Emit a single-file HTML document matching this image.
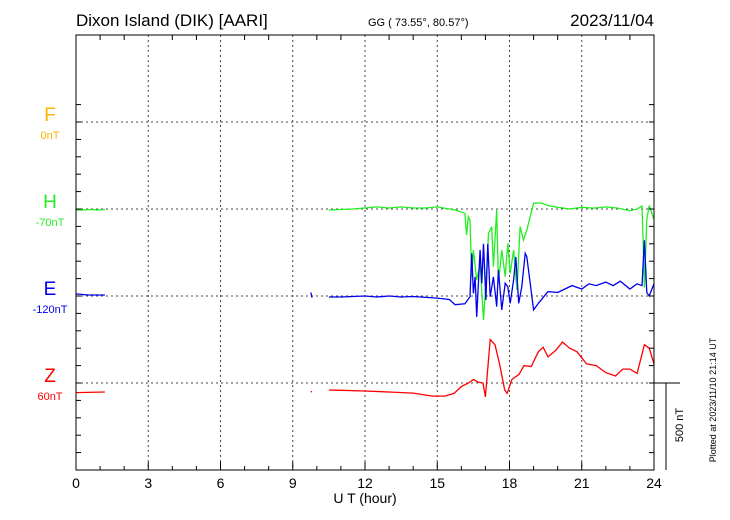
<!DOCTYPE html>
<html><head><meta charset="utf-8"><style>
body{margin:0;background:#fff;}
svg{display:block;font-family:"Liberation Sans",sans-serif;}
</style></head><body>
<svg id="chart" width="730" height="520">
<text x="76" y="26" font-size="17">Dixon Island (DIK)  [AARI]</text>
<text x="368" y="26" font-size="11">GG ( 73.55°,  80.57°)</text>
<text x="654" y="26" font-size="17" text-anchor="end">2023/11/04</text>
<g id="grid"></g><g id="series"></g><g id="axes"></g>
<text x="365" y="503" font-size="14" text-anchor="middle">U T (hour)</text>
<text transform="translate(683,425) rotate(-90)" font-size="11" text-anchor="middle">500 nT</text>
<text transform="translate(716,400) rotate(-90)" font-size="9" text-anchor="middle">Plotted at 2023/11/10 21:14 UT</text>
</svg>
<script>
const xTicks=[0,3,6,9,12,15,18,21,24];
const compNames=["F","H","E","Z"];
const compBase=["0nT","-70nT","-120nT","60nT"];
const compColors=["#ffb300","#22ee22","#0000ee","#ff0000"];
const hTimes=[0,0.3,0.6,0.9,1.2,null,10.5,11,11.5,12,12.5,13,13.5,14,14.5,15,15.5,15.74,16.15,16.22,16.29,16.36,16.43,16.5,16.64,16.78,16.92,17.06,17.13,17.26,17.33,17.47,17.54,17.68,17.82,17.93,18.03,18.17,18.31,18.44,18.58,18.72,18.86,19.0,19.3,19.6,20,20.5,21,21.5,22,22.5,23,23.3,23.5,23.55,23.6,23.7,23.8,24];
const hVals=[-6,-6,-3,-6,-3,null,-6,-3,0,6,12,6,12,6,6,12,0,-6,-25,-150,-44,-63,-389,-236,-408,-312,-638,-332,-140,-102,-332,-6,-427,-236,-389,-197,-370,-236,-466,-102,-178,-121,-44,33,35,20,10,0,10,5,12,5,-10,0,17,-200,-450,-60,20,-60];
const eTimes=[0,0.5,1.2,null,9.75,9.8,null,10.5,11,12,12.5,13,13.5,14,15,15.5,15.74,16.15,16.36,16.43,16.5,16.57,16.64,16.78,16.85,16.92,17.02,17.1,17.2,17.33,17.47,17.54,17.68,17.82,17.93,18.03,18.17,18.26,18.38,18.51,18.65,18.72,18.86,19.0,19.2,19.6,20,20.3,20.6,21,21.3,21.6,22,22.3,22.6,23,23.3,23.5,23.6,23.7,23.8,24];
const eVals=[12,6,6,null,20,-10,null,-6,-6,0,-6,0,-6,-3,-12,-20,-50,-45,-4,245,15,110,-120,265,73,300,-23,300,-4,110,-61,150,-80,73,54,-42,92,225,-42,54,245,226,73,-80,-42,25,20,40,60,40,70,60,80,60,85,40,70,60,320,20,0,70];
const zTimes=[0,1.2,null,9.75,9.8,null,10.5,11,12,13,14,14.8,15.3,15.7,16,16.3,16.5,16.7,16.9,17,17.2,17.4,17.6,17.8,17.9,18.1,18.4,18.6,18.9,19.2,19.4,19.6,19.9,20.2,20.5,20.8,21.2,21.6,22,22.4,22.7,23,23.3,23.6,23.8,24];
const zVals=[-55,-52,null,-50,-50,null,-40,-42,-46,-52,-58,-75,-75,-60,-20,0,20,5,0,-80,250,220,100,-40,-60,20,50,100,95,180,205,150,185,235,200,180,110,100,60,40,80,80,55,220,200,110];
const X0=76,X1=654,Y0=35,Y1=470;
const baseY=[122,209,296,383];
const pxPerNT=87/500;
const xs=h=>X0+h*(X1-X0)/24;
const ys=(i,v)=>baseY[i]-v*pxPerNT;
const NS="http://www.w3.org/2000/svg";
function mk(t,a,p){const e=document.createElementNS(NS,t);for(const k in a)e.setAttribute(k,a[k]);p.appendChild(e);return e;}
const grid=document.getElementById('grid'),axes=document.getElementById('axes'),ser=document.getElementById('series');
for(let i=1;i<8;i++){const l=mk('line',{x1:xs(i*3),x2:xs(i*3),y1:Y0,y2:Y1,stroke:'#444','stroke-dasharray':'2,3'},grid);

}
baseY.forEach((y,i)=>{const l=mk('line',{x1:X0,x2:X1,y1:y,y2:y,stroke:'#444','stroke-dasharray':'2,3'},grid);


const n=mk('text',{x:50,y:y-1,'font-size':19,fill:compColors[i],'text-anchor':'middle'},axes);n.textContent=compNames[i];


const b=mk('text',{x:50,y:y+17,'font-size':11,fill:compColors[i],'text-anchor':'middle'},axes);b.textContent=compBase[i];

});
const fr=mk('rect',{x:X0,y:Y0,width:X1-X0,height:Y1-Y0,fill:'none',stroke:'#000','stroke-width':1},axes);


for(let h=0;h<=24;h++){const big=h%3==0;mk('line',{x1:xs(h),x2:xs(h),y1:Y0,y2:Y0+(big?0:5),stroke:'#000'},axes);mk('line',{x1:xs(h),x2:xs(h),y1:Y1,y2:Y1-(big?8:4),stroke:'#000'},axes);}
for(let y=baseY[0]-17.4;y<Y1;y+=17.4){mk('line',{x1:X0,x2:X0+5,y1:y,y2:y,stroke:'#000'},axes);mk('line',{x1:X1,x2:X1-5,y1:y,y2:y,stroke:'#000'},axes);}
xTicks.forEach(t=>{const e=mk('text',{x:xs(t),y:488,'font-size':14,'text-anchor':'middle'},axes);e.textContent=t;

});
mk('line',{x1:X1,x2:680,y1:383,y2:383,stroke:'#000'},axes);
const sb=mk('line',{x1:666,x2:666,y1:383,y2:470,stroke:'#000'},axes);


function draw(ts,vs,i,name){let d='',pen=false;for(let k=0;k<ts.length;k++){if(ts[k]===null){pen=false;continue;}d+=(pen?'L':'M')+xs(ts[k]).toFixed(1)+','+ys(i,vs[k]).toFixed(1);pen=true;}
const p=mk('path',{d:d,fill:'none',stroke:compColors[i],'stroke-width':1.3},ser);

}
draw(hTimes,hVals,1,'h-series');draw(eTimes,eVals,2,'e-series');draw(zTimes,zVals,3,'z-series');
</script>
</body></html>
